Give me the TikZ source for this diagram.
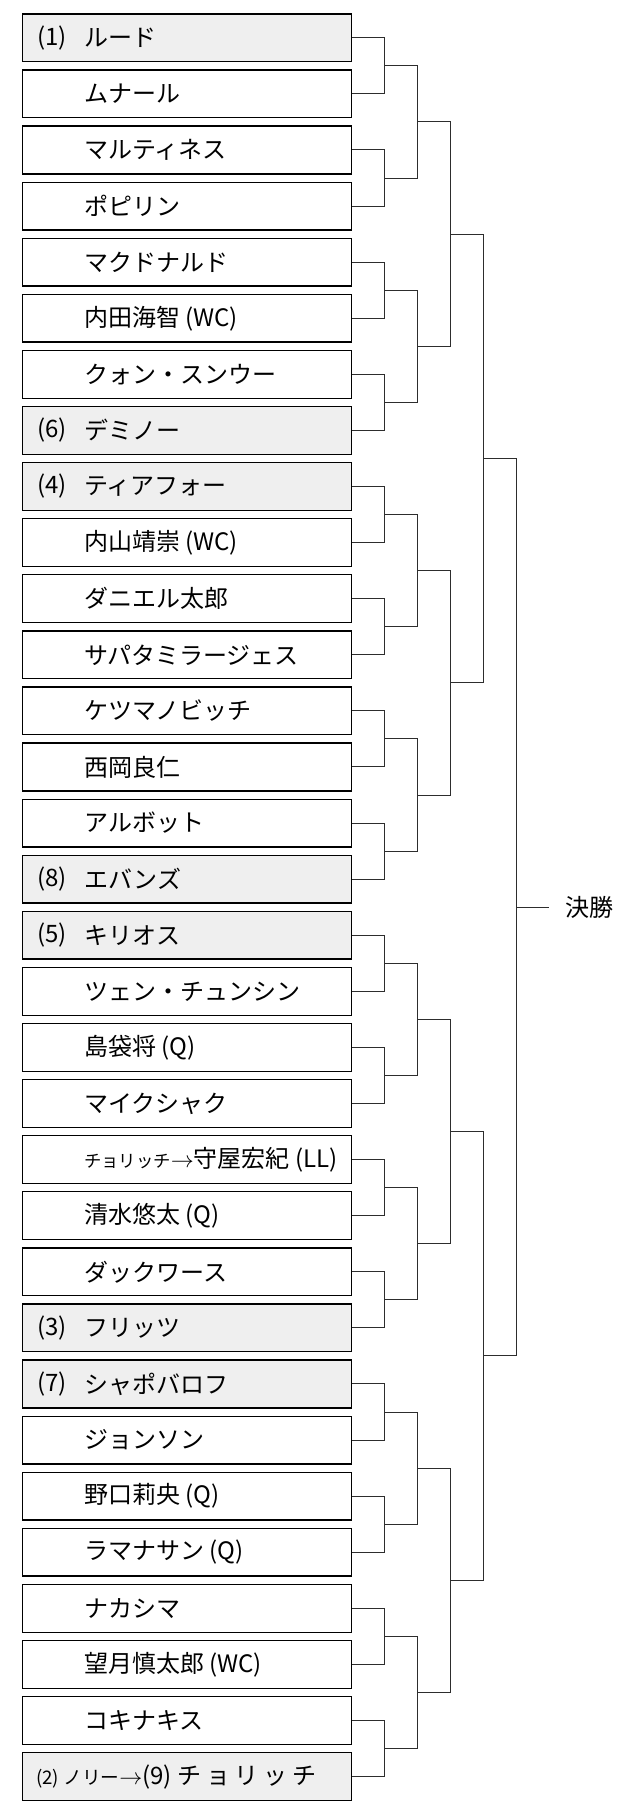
\documentclass[tikz,border=0pt]{standalone}
\usepackage{fontspec}
\setmainfont{Noto Sans CJK JP}
\definecolor{Sfill}{RGB}{239,239,239}
\definecolor{Lgray}{RGB}{45,45,45}
\newcommand{\smallarr}{{\fontsize{16}{16}\selectfont$\rightarrow$}}

\begin{document}
\begin{tikzpicture}[x=0.75pt,y=-0.75pt,line join=miter,
  box/.style={rectangle,draw=black,line width=1pt,fill=white,minimum width=246.75pt,minimum height=35.85pt,inner sep=0pt},
  seedbox/.style={box,fill=Sfill},
  seedno/.style={anchor=west,inner sep=0pt,font=\fontsize{18}{20}\selectfont},
  player/.style={anchor=west,inner sep=0pt,font=\fontsize{18}{20}\selectfont},
  link/.style={draw=Lgray,line width=0.75pt}]
\path[use as bounding box] (0,0) rectangle (630,1815);
% player boxes
\node[seedbox] (b0) at (187.2,37.80) {};
\node[box] (b1) at (187.2,93.89) {};
\node[box] (b2) at (187.2,149.98) {};
\node[box] (b3) at (187.2,206.07) {};
\node[box] (b4) at (187.2,262.16) {};
\node[box] (b5) at (187.2,318.25) {};
\node[box] (b6) at (187.2,374.34) {};
\node[seedbox] (b7) at (187.2,430.43) {};
\node[seedbox] (b8) at (187.2,486.52) {};
\node[box] (b9) at (187.2,542.61) {};
\node[box] (b10) at (187.2,598.70) {};
\node[box] (b11) at (187.2,654.79) {};
\node[box] (b12) at (187.2,710.88) {};
\node[box] (b13) at (187.2,766.97) {};
\node[box] (b14) at (187.2,823.06) {};
\node[seedbox] (b15) at (187.2,879.15) {};
\node[seedbox] (b16) at (187.2,935.24) {};
\node[box] (b17) at (187.2,991.33) {};
\node[box] (b18) at (187.2,1047.42) {};
\node[box] (b19) at (187.2,1103.51) {};
\node[box] (b20) at (187.2,1159.60) {};
\node[box] (b21) at (187.2,1215.69) {};
\node[box] (b22) at (187.2,1271.78) {};
\node[seedbox] (b23) at (187.2,1327.87) {};
\node[seedbox] (b24) at (187.2,1383.96) {};
\node[box] (b25) at (187.2,1440.05) {};
\node[box] (b26) at (187.2,1496.14) {};
\node[box] (b27) at (187.2,1552.23) {};
\node[box] (b28) at (187.2,1608.32) {};
\node[box] (b29) at (187.2,1664.41) {};
\node[box] (b30) at (187.2,1720.50) {};
\node[seedbox] (b31) at (187.2,1776.59) {};
% seeds
\node[seedno] (s0) at (37,37.80) {(1)};
\node[seedno] (s7) at (37,430.43) {(6)};
\node[seedno] (s8) at (37,486.52) {(4)};
\node[seedno] (s15) at (37,879.15) {(8)};
\node[seedno] (s16) at (37,935.24) {(5)};
\node[seedno] (s23) at (37,1327.87) {(3)};
\node[seedno] (s24) at (37,1383.96) {(7)};
% names
\node[player] (n0) at (84,37.80) {ルード};
\node[player] (n1) at (84,93.89) {ムナール};
\node[player] (n2) at (84,149.98) {マルティネス};
\node[player] (n3) at (84,206.07) {ポピリン};
\node[player] (n4) at (84,262.16) {マクドナルド};
\node[player] (n5) at (84,318.25) {内田海智 (WC)};
\node[player] (n6) at (84,374.34) {クォン・スンウー};
\node[player] (n7) at (84,430.43) {デミノー};
\node[player] (n8) at (84,486.52) {ティアフォー};
\node[player] (n9) at (84,542.61) {内山靖崇 (WC)};
\node[player] (n10) at (84,598.70) {ダニエル太郎};
\node[player] (n11) at (84,654.79) {サパタミラージェス};
\node[player] (n12) at (84,710.88) {ケツマノビッチ};
\node[player] (n13) at (84,766.97) {西岡良仁};
\node[player] (n14) at (84,823.06) {アルボット};
\node[player] (n15) at (84,879.15) {エバンズ};
\node[player] (n16) at (84,935.24) {キリオス};
\node[player] (n17) at (84,991.33) {ツェン・チュンシン};
\node[player] (n18) at (84,1047.42) {島袋将 (Q)};
\node[player] (n19) at (84,1103.51) {マイクシャク};
\node[player] (n20) at (84,1159.60) {{\fontsize{13}{14}\selectfont チョリッチ}\smallarr 守屋宏紀 (LL)};
\node[player] (n21) at (84,1215.69) {清水悠太 (Q)};
\node[player] (n22) at (84,1271.78) {ダックワース};
\node[player] (n23) at (84,1327.87) {フリッツ};
\node[player] (n24) at (84,1383.96) {シャポバロフ};
\node[player] (n25) at (84,1440.05) {ジョンソン};
\node[player] (n26) at (84,1496.14) {野口莉央 (Q)};
\node[player] (n27) at (84,1552.23) {ラマナサン (Q)};
\node[player] (n28) at (84,1608.32) {ナカシマ};
\node[player] (n29) at (84,1664.41) {望月慎太郎 (WC)};
\node[player] (n30) at (84,1720.50) {コキナキス};
\node[player] (n31) at (36,1776.59) {{\fontsize{14}{15}\selectfont (2) ノリー}\smallarr(9) {\addfontfeature{LetterSpace=20}チョリッチ}};
% bracket joints
\coordinate (r1-0) at (384.7,65.85);
\coordinate (r1-1) at (384.7,178.03);
\coordinate (r1-2) at (384.7,290.21);
\coordinate (r1-3) at (384.7,402.39);
\coordinate (r1-4) at (384.7,514.57);
\coordinate (r1-5) at (384.7,626.75);
\coordinate (r1-6) at (384.7,738.93);
\coordinate (r1-7) at (384.7,851.11);
\coordinate (r1-8) at (384.7,963.29);
\coordinate (r1-9) at (384.7,1075.47);
\coordinate (r1-10) at (384.7,1187.65);
\coordinate (r1-11) at (384.7,1299.83);
\coordinate (r1-12) at (384.7,1412.01);
\coordinate (r1-13) at (384.7,1524.19);
\coordinate (r1-14) at (384.7,1636.37);
\coordinate (r1-15) at (384.7,1748.55);
\coordinate (r2-0) at (417.7,121.94);
\coordinate (r2-1) at (417.7,346.30);
\coordinate (r2-2) at (417.7,570.66);
\coordinate (r2-3) at (417.7,795.02);
\coordinate (r2-4) at (417.7,1019.38);
\coordinate (r2-5) at (417.7,1243.74);
\coordinate (r2-6) at (417.7,1468.10);
\coordinate (r2-7) at (417.7,1692.46);
\coordinate (r3-0) at (450.7,234.12);
\coordinate (r3-1) at (450.7,682.84);
\coordinate (r3-2) at (450.7,1131.56);
\coordinate (r3-3) at (450.7,1580.28);
\coordinate (r4-0) at (483.7,458.48);
\coordinate (r4-1) at (483.7,1355.92);
\coordinate (r5) at (516.7,907.20);
\coordinate (fend) at (549.3,907.20);
% first round
\draw[link] (b0.east) -| (r1-0) |- (b1.east);
\draw[link] (b2.east) -| (r1-1) |- (b3.east);
\draw[link] (b4.east) -| (r1-2) |- (b5.east);
\draw[link] (b6.east) -| (r1-3) |- (b7.east);
\draw[link] (b8.east) -| (r1-4) |- (b9.east);
\draw[link] (b10.east) -| (r1-5) |- (b11.east);
\draw[link] (b12.east) -| (r1-6) |- (b13.east);
\draw[link] (b14.east) -| (r1-7) |- (b15.east);
\draw[link] (b16.east) -| (r1-8) |- (b17.east);
\draw[link] (b18.east) -| (r1-9) |- (b19.east);
\draw[link] (b20.east) -| (r1-10) |- (b21.east);
\draw[link] (b22.east) -| (r1-11) |- (b23.east);
\draw[link] (b24.east) -| (r1-12) |- (b25.east);
\draw[link] (b26.east) -| (r1-13) |- (b27.east);
\draw[link] (b28.east) -| (r1-14) |- (b29.east);
\draw[link] (b30.east) -| (r1-15) |- (b31.east);
% second round
\draw[link] (r1-0) -| (r2-0) |- (r1-1);
\draw[link] (r1-2) -| (r2-1) |- (r1-3);
\draw[link] (r1-4) -| (r2-2) |- (r1-5);
\draw[link] (r1-6) -| (r2-3) |- (r1-7);
\draw[link] (r1-8) -| (r2-4) |- (r1-9);
\draw[link] (r1-10) -| (r2-5) |- (r1-11);
\draw[link] (r1-12) -| (r2-6) |- (r1-13);
\draw[link] (r1-14) -| (r2-7) |- (r1-15);
% quarter finals
\draw[link] (r2-0) -| (r3-0) |- (r2-1);
\draw[link] (r2-2) -| (r3-1) |- (r2-3);
\draw[link] (r2-4) -| (r3-2) |- (r2-5);
\draw[link] (r2-6) -| (r3-3) |- (r2-7);
% semi finals
\draw[link] (r3-0) -| (r4-0) |- (r3-1);
\draw[link] (r3-2) -| (r4-1) |- (r3-3);
% final
\draw[link] (r4-0) -| (r5) |- (r4-1);
\draw[link] (r5) -- (fend);
\node[player] (final) at (565,907.20) {決勝};
\end{tikzpicture}
\end{document}
